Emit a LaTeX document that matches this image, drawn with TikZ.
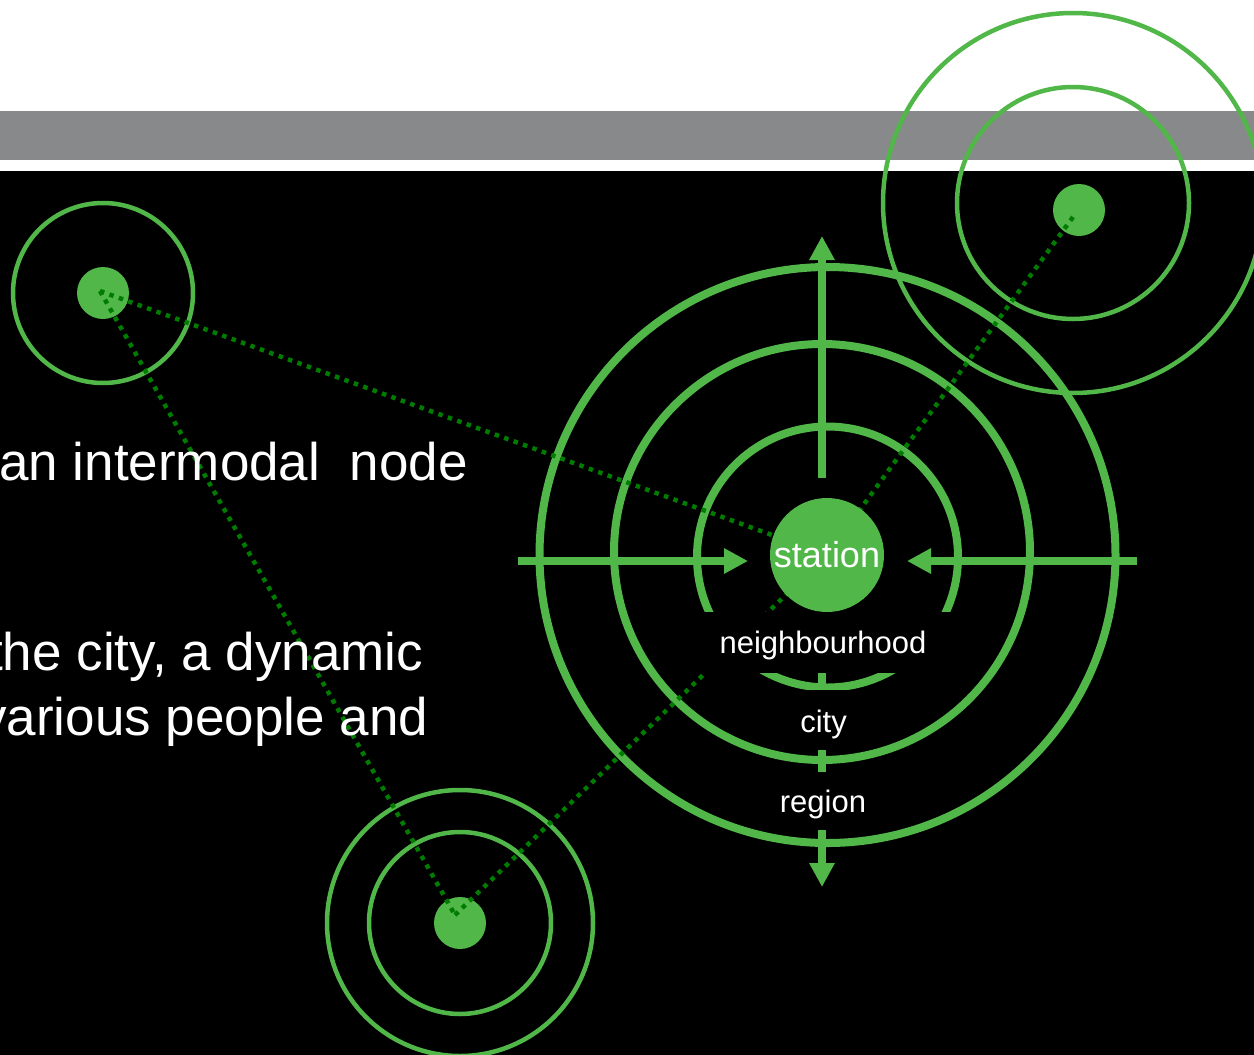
\documentclass[tikz,border=0pt]{standalone}
\usepackage{fontspec}
\setmainfont{Liberation Sans}
\usetikzlibrary{arrows.meta}
\definecolor{grn}{RGB}{80,183,72}
\definecolor{dgrn}{RGB}{0,125,0}
\definecolor{barg}{RGB}{136,137,139}
\begin{document}
\begin{tikzpicture}[x=1pt,y=-1pt,
  bigring/.style={draw=grn,line width=8pt},
  smallring/.style={draw=grn,line width=4.5pt},
  hub/.style={circle,fill=grn,minimum size=52pt,inner sep=0pt},
  link/.style={draw=dgrn,line width=4.5pt,dash pattern=on 4.5pt off 5.5pt},
  flow/.style={draw=grn,line width=8pt,-{Triangle[length=24pt,width=24pt]}},
  lbl/.style={fill=black,text=white,font=\fontsize{31}{31}\selectfont,inner sep=0pt,anchor=base},
  body/.style={text=white,font=\fontsize{53}{60}\selectfont,anchor=base west,inner sep=0pt}]
\useasboundingbox (0,0) rectangle (1254,1055);
\clip (0,0) rectangle (1254,1055);
% background
\fill[white] (0,0) rectangle (1254,171);
\fill[black] (0,171) rectangle (1254,1055);
\fill[barg] (0,111) rectangle (1254,160);
% big rings
\draw[bigring] (827.5,555) circle[radius=288pt];
\draw[bigring] (822,552) circle[radius=208pt];
\draw[bigring] (827.5,557) circle[radius=130.5pt];
% small rings
\draw[smallring] (103,293) circle[radius=90pt];
\draw[smallring] (1073,203) circle[radius=116pt];
\draw[smallring] (1073,203) circle[radius=190pt];
\draw[smallring] (460,923) circle[radius=91pt];
\draw[smallring] (460,923) circle[radius=133pt];
% hubs
\node[hub] (hubA) at (103,293) {};
\node[hub] (hubB) at (1079,210) {};
\node[hub] (hubC) at (460,923) {};
% arrows
\coordinate (aL0) at (518,561); \coordinate (aL1) at (748,561);
\coordinate (aR0) at (1137,561); \coordinate (aR1) at (907,561);
\coordinate (aT0) at (822,478); \coordinate (aT1) at (822,236);
\coordinate (aB0) at (822,612); \coordinate (aB1) at (822,887);
\draw[flow] (aL0) -- (aL1);
\draw[flow] (aR0) -- (aR1);
\draw[flow] (aT0) -- (aT1);
\draw[flow] (aB0) -- (aB1);
% dotted links
\coordinate (pA) at (100,291);
\coordinate (pB) at (1073,217);
\coordinate (pC) at (455,915);
\coordinate (stc) at (827,555);
\draw[link] (pA) -- (stc);
\draw[link] (pA) -- (pC);
\draw[link] (pC) -- (stc);
\draw[link] (pB) -- (stc);
% station
\node[circle,fill=grn,minimum size=114pt,inner sep=0pt,text=white,font=\fontsize{36}{36}\selectfont] (station) at (stc) {station};
% scale labels
\node[lbl,text height=41pt,text depth=20pt,minimum width=262pt] (nbh) at (823,653) {neighbourhood};
\node[lbl,text height=42pt,text depth=18pt,minimum width=90pt] (city) at (823.5,732) {city};
\node[lbl,text height=40pt,text depth=18pt,minimum width=110pt] (region) at (823,812) {region};
% body text
\node[body] (t1) at (-1,480) {an intermodal~~node};
\node[body] (t2) at (-12,670) {the city, a dynamic};
\node[body] (t3) at (-20,735) {various people and};
\end{tikzpicture}
\end{document}
